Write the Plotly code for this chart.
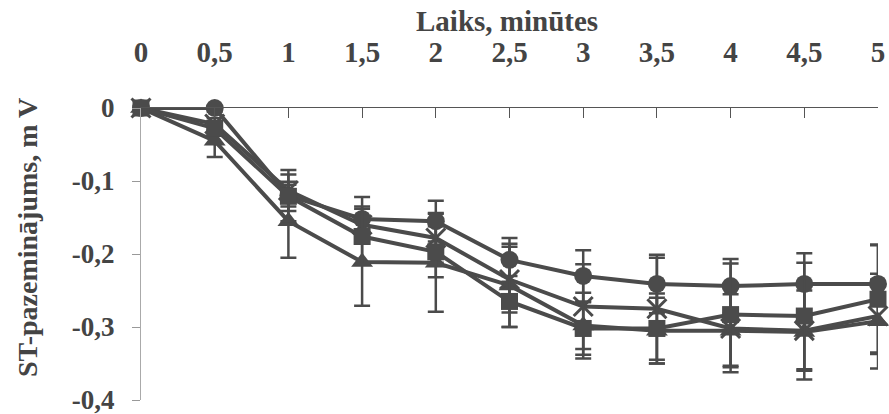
import plotly.graph_objects as go

# Time points (minutes) and tick labels with comma decimals
time_min = [0, 0.5, 1, 1.5, 2, 2.5, 3, 3.5, 4, 4.5, 5]
x_tick_text = ["0", "0,5", "1", "1,5", "2", "2,5", "3", "3,5", "4", "4,5", "5"]
y_tick_vals = [0, -0.1, -0.2, -0.3, -0.4]
y_tick_text = ["0", "-0,1", "-0,2", "-0,3", "-0,4"]

# ST depression (mV) for the four groups, with their error margins
circle_vals = [0, 0.0, -0.12, -0.152, -0.155, -0.208, -0.23, -0.241, -0.244, -0.241, -0.241]
circle_err = [0, 0.005, 0.035, 0.03, 0.028, 0.03, 0.035, 0.04, 0.037, 0.042, 0.053]

cross_vals = [0, -0.022, -0.113, -0.16, -0.178, -0.235, -0.272, -0.275, -0.302, -0.305, -0.285]
cross_err = [0, 0.008, 0.022, 0.025, 0.034, 0.045, 0.058, 0.07, 0.06, 0.055, 0.05]

square_vals = [0, -0.028, -0.121, -0.176, -0.197, -0.265, -0.302, -0.302, -0.283, -0.285, -0.262]
square_err = [0, 0.01, 0.02, 0.038, 0.035, 0.035, 0.036, 0.048, 0.07, 0.073, 0.075]

triangle_vals = [0, -0.045, -0.155, -0.211, -0.212, -0.243, -0.298, -0.305, -0.305, -0.307, -0.292]
triangle_err = [0, 0.022, 0.05, 0.06, 0.067, 0.057, 0.045, 0.045, 0.05, 0.065, 0.065]

INK = "#4b4b4b"
TEXT = "#444444"
FONT = "Liberation Serif"

series = [
    (triangle_vals, triangle_err, dict(symbol="triangle-up", size=19, color=INK)),
    (cross_vals, cross_err, dict(symbol="x-thin", size=19, color=INK, line=dict(width=3, color=INK))),
    (circle_vals, circle_err, dict(symbol="circle", size=18, color=INK)),
    (square_vals, square_err, dict(symbol="square", size=17, color=INK)),
]

fig = go.Figure()
for vals, err, marker in series:
    fig.add_trace(go.Scatter(
        x=time_min, y=vals,
        mode="lines+markers",
        line=dict(color=INK, width=4),
        marker=marker,
        error_y=dict(type="data", array=err, visible=True,
                     color=INK, thickness=2.5, width=8),
        cliponaxis=False,
        showlegend=False,
    ))

fig.update_layout(
    width=889, height=414,
    margin=dict(l=141, r=11, t=108, b=14),
    paper_bgcolor="white", plot_bgcolor="white",
    font=dict(family=FONT, color=TEXT, size=29),
    xaxis=dict(
        range=[0, 5], side="top", automargin=False,
        tickvals=time_min, ticktext=x_tick_text,
        tickfont=dict(family=FONT, size=29, color=TEXT, weight="bold"),
        ticks="inside", ticklen=10, tickcolor="#555555", tickwidth=1,
        ticklabelstandoff=33,
        showline=True, linecolor="#555555", linewidth=1,
        showgrid=False, zeroline=False,
    ),
    yaxis=dict(
        range=[-0.4, 0], automargin=False,
        tickvals=y_tick_vals, ticktext=y_tick_text,
        tickfont=dict(family=FONT, size=27, color=TEXT, weight="bold"),
        ticks="outside", ticklen=8, tickcolor="#999999", tickwidth=1,
        ticklabelstandoff=12, ticklabeloverflow="allow",
        showline=True, linecolor="#aaaaaa", linewidth=1,
        showgrid=False, zeroline=False,
    ),
    annotations=[
        dict(text="<b>Laiks, minūtes</b>", xref="paper", yref="paper",
             x=0.497, y=1.0, yshift=87, xanchor="center", yanchor="middle",
             showarrow=False, font=dict(family=FONT, size=29, color=TEXT)),
        dict(text="<b>ST-pazeminājums, m V</b>", xref="paper", yref="paper",
             x=0, xshift=-114, y=0.5, yshift=16, textangle=-90,
             xanchor="center", yanchor="middle",
             showarrow=False, font=dict(family=FONT, size=28, color=TEXT)),
    ],
)

fig.write_html("out.html")
